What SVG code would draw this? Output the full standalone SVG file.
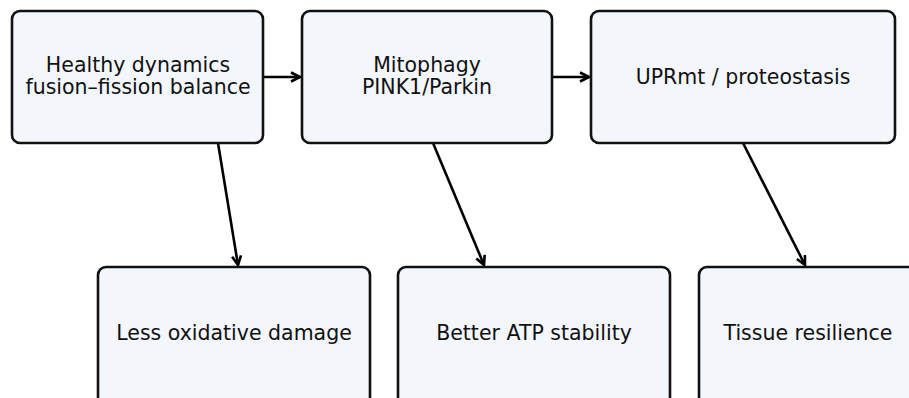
<svg xmlns="http://www.w3.org/2000/svg" width="909" height="398" viewBox="0 0 909 398">
<defs>
<style>
.box{fill:#f3f6fb;stroke:#111;stroke-width:2.6}
.lbl{font-family:"DejaVu Sans",sans-serif;font-size:20.5px;fill:#111;text-anchor:middle}
.conn{stroke:#000;stroke-width:2.6;fill:none}
</style>
<marker id="arr" viewBox="0 0 12 12" refX="10.5" refY="6" markerWidth="12" markerHeight="12" markerUnits="userSpaceOnUse" orient="auto">
<path d="M1.5,1.5 L10.5,6 L1.5,10.5" fill="none" stroke="#000" stroke-width="2.6"/>
</marker>
</defs>
<rect width="909" height="398" fill="#fff"/>
<g id="connectors">
<line class="conn" x1="263" y1="77" x2="300" y2="77" marker-end="url(#arr)"/>
<line class="conn" x1="552" y1="77" x2="589" y2="77" marker-end="url(#arr)"/>
<line class="conn" x1="218" y1="143" x2="238" y2="265" marker-end="url(#arr)"/>
<line class="conn" x1="433" y1="143" x2="484" y2="265" marker-end="url(#arr)"/>
<line class="conn" x1="743" y1="143" x2="805" y2="265" marker-end="url(#arr)"/>
</g>
<g id="n1">
<rect class="box" x="12" y="11" width="251" height="132" rx="8"/>
<text class="lbl" x="138" y="72">Healthy dynamics</text>
<text class="lbl" x="138" y="94">fusion–fission balance</text>
</g>
<g id="n2">
<rect class="box" x="302" y="11" width="250" height="132" rx="8"/>
<text class="lbl" x="427" y="72">Mitophagy</text>
<text class="lbl" x="427" y="94">PINK1/Parkin</text>
</g>
<g id="n3">
<rect class="box" x="591" y="11" width="304" height="132" rx="8"/>
<text class="lbl" x="743" y="83.5">UPRmt / proteostasis</text>
</g>
<g id="n4">
<rect class="box" x="98" y="267" width="272" height="140" rx="8"/>
<text class="lbl" x="234" y="340">Less oxidative damage</text>
</g>
<g id="n5">
<rect class="box" x="398" y="267" width="272" height="140" rx="8"/>
<text class="lbl" x="534" y="340">Better ATP stability</text>
</g>
<g id="n6">
<rect class="box" x="699" y="267" width="220" height="140" rx="8"/>
<text class="lbl" x="808" y="340">Tissue resilience</text>
</g>
</svg>
